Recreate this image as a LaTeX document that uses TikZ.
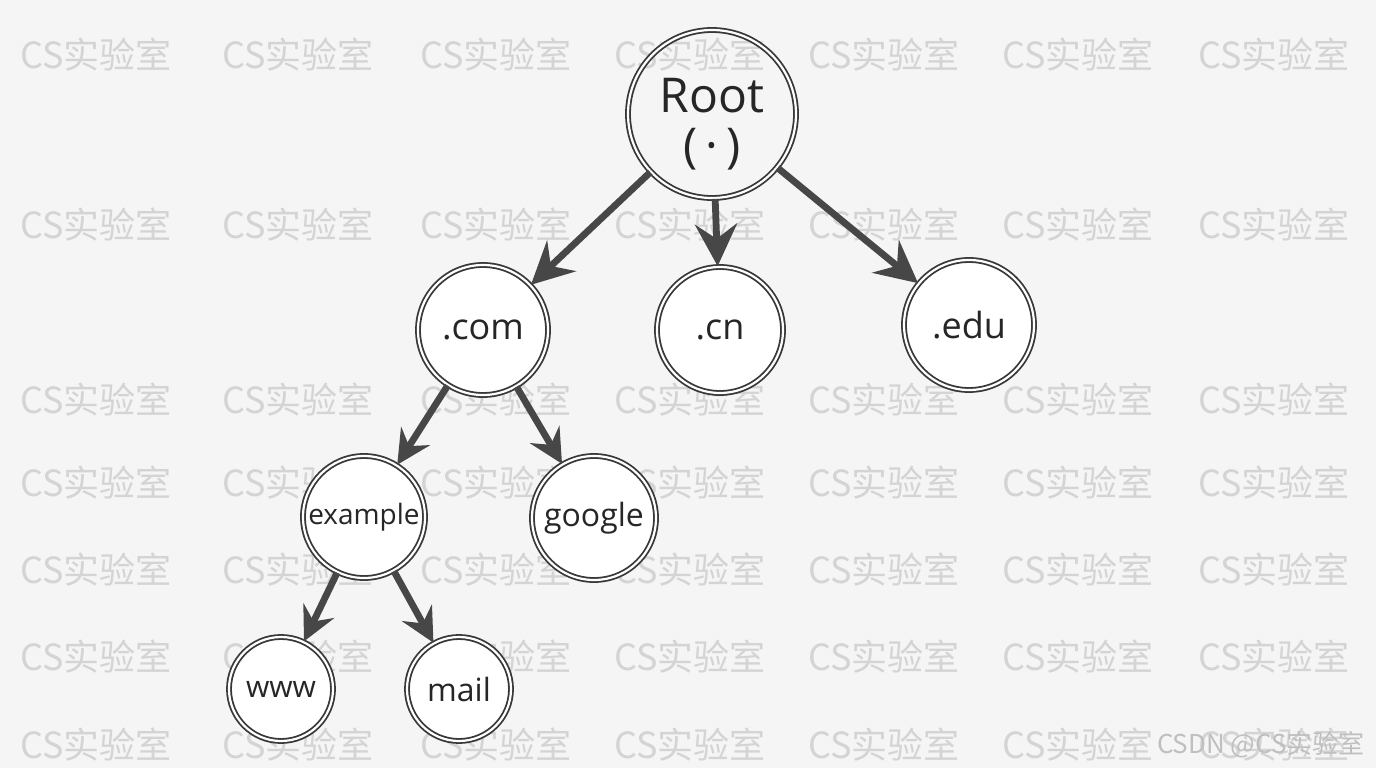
\documentclass[tikz,border=0pt]{standalone}
\usepackage{fontspec}
\setmainfont{Open Sans}
\newfontfamily\wmfont{Noto Sans CJK SC}
\usepackage{tikz}
\usetikzlibrary{arrows.meta}

\begin{document}
\begin{tikzpicture}[x=0.5pt,y=-0.5pt,
    dnsnode/.style={circle,draw=black!78,line width=0.9pt,double=white,double distance=1.1pt,
      fill=white,inner sep=0pt,text=black!85},
    dnsedge/.style={draw=black!72,line width=3.4pt,
      -{Stealth[length=#1,width=#1,inset=0.35*#1]}},
    dnsedge/.default=21pt,
    wmark/.style={black!17,font=\wmfont\fontsize{18}{18}\selectfont}]
  \fill[black!4] (0,0) rectangle (1376,768);

  % watermark
  \foreach \wy [count=\j] in {55,225,400,483,570,657,745}
    \foreach \wx [count=\i] in {96,298,496,690,884,1078,1274}
      \node[wmark] (wm-\i-\j) at (\wx,\wy) {CS实验室};
  \node[black!25,font=\wmfont\fontsize{13}{13}\selectfont,anchor=east] (csdn) at (1372,745) {CSDN @CS实验室};

  % tree
  \node[dnsnode,fill=none,minimum size=84pt] (root) at (712,114) {};
  \node[align=center,text=black!85,font=\fontsize{24}{25}\selectfont] (roottext) at (712,124) {Root\\(\,·\,)};
  \node[dnsnode,minimum size=65pt,font=\fontsize{18}{18}\selectfont] (com) at (483,330) {.com};
  \node[dnsnode,minimum size=63pt,font=\fontsize{18}{18}\selectfont] (cn) at (720,330) {.cn};
  \node[dnsnode,minimum size=65pt,font=\fontsize{18}{18}\selectfont] (edu) at (969,325) {.edu};
  \node[dnsnode,minimum size=61pt,font=\fontsize{14}{14}\selectfont] (example) at (364,517) {example};
  \node[dnsnode,minimum size=62pt,font=\fontsize{16}{16}\selectfont] (google) at (594,518) {google};
  \node[dnsnode,minimum size=52pt,font=\fontsize{15}{15}\selectfont] (www) at (281,689) {www};
  \node[dnsnode,minimum size=52pt,font=\fontsize{16}{16}\selectfont] (mail) at (459,689) {mail};

  \draw[dnsedge] (root) -- (com);
  \draw[dnsedge] (root) -- (cn);
  \draw[dnsedge] (root) -- (edu);
  \draw[dnsedge=17pt] (com) -- (example);
  \draw[dnsedge=17pt] (com) -- (google);
  \draw[dnsedge=17pt] (example) -- (www);
  \draw[dnsedge=17pt] (example) -- (mail);
\end{tikzpicture}
\end{document}
